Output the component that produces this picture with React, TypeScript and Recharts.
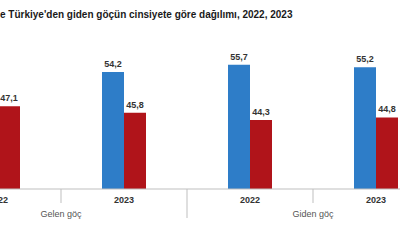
import React from "react";
import { BarChart, Bar, XAxis, YAxis, LabelList } from "recharts";

const years = ["2022", "2023", "2022", "2023"];
const groups = ["Gelen göç", "Gelen göç", "Giden göç", "Giden göç"];
const erkek = [52.9, 54.2, 55.7, 55.2];
const kadin = [47.1, 45.8, 44.3, 44.8];

const COLORS = {
  erkek: "#2E7DC8",
  kadin: "#B0141A",
  axis: "#BFBFBF",
};

const CHART_W = 504;
const BAND = CHART_W / years.length;

const data = years.map((year, i) => ({
  key: `${groups[i]}-${year}`,
  year,
  group: groups[i],
  erkek: erkek[i],
  kadin: kadin[i],
}));

const fmt = (v: any) => Number(v).toFixed(1).replace(".", ",");

// two-level category axis: year under each bar pair, group name under the pair of years
const CategoryTick = ({ x, y, index }: any) => {
  const row = data[index];
  const prev = index > 0 ? data[index - 1] : null;
  const groupEdge = prev && prev.group !== row.group;
  const first = !prev || groupEdge;
  return (
    <g>
      {prev && (
        <line
          x1={x - BAND / 2}
          x2={x - BAND / 2}
          y1={y}
          y2={y + (groupEdge ? 29 : 14)}
          stroke={COLORS.axis}
        />
      )}
      <text
        x={x}
        y={y + 14}
        textAnchor="middle"
        fontSize={9}
        fontWeight="bold"
        fill="#333"
      >
        {row.year}
      </text>
      {first && (
        <text
          x={x + BAND / 2}
          y={y + 28}
          textAnchor="middle"
          fontSize={9}
          fill="#555"
        >
          {row.group}
        </text>
      )}
    </g>
  );
};

const App: React.FC = () => {
  return (
    <div
      style={{
        position: "fixed",
        top: 0,
        left: 0,
        width: 400,
        height: 240,
        overflow: "hidden",
        background: "#fff",
        fontFamily: "Arial, 'Liberation Sans', sans-serif",
      }}
    >
      <div
        style={{
          position: "absolute",
          top: 9,
          left: 0,
          fontSize: 10,
          lineHeight: "12px",
          fontWeight: "bold",
          color: "#1a1a1a",
          whiteSpace: "nowrap",
        }}
      >
        e Türkiye'den giden göçün cinsiyete göre dağılımı, 2022, 2023
      </div>
      <div style={{ position: "absolute", top: 0, left: -65 }}>
        <BarChart
          width={CHART_W}
          height={240}
          data={data}
          margin={{ top: 44, right: 0, bottom: 0, left: 0 }}
          barSize={22}
          barGap={0}
        >
          <XAxis
            dataKey="key"
            height={51}
            interval={0}
            tickLine={false}
            tickSize={0}
            tickMargin={0}
            axisLine={{ stroke: COLORS.axis }}
            tick={<CategoryTick />}
          />
          <YAxis hide domain={[30, 60]} allowDataOverflow />
          <Bar dataKey="erkek" fill={COLORS.erkek} isAnimationActive={false}>
            <LabelList
              dataKey="erkek"
              position="top"
              formatter={fmt}
              fontSize={9}
              fontWeight="bold"
              fill="#333"
            />
          </Bar>
          <Bar dataKey="kadin" fill={COLORS.kadin} isAnimationActive={false}>
            <LabelList
              dataKey="kadin"
              position="top"
              formatter={fmt}
              fontSize={9}
              fontWeight="bold"
              fill="#333"
            />
          </Bar>
        </BarChart>
      </div>
    </div>
  );
};

export default App;
